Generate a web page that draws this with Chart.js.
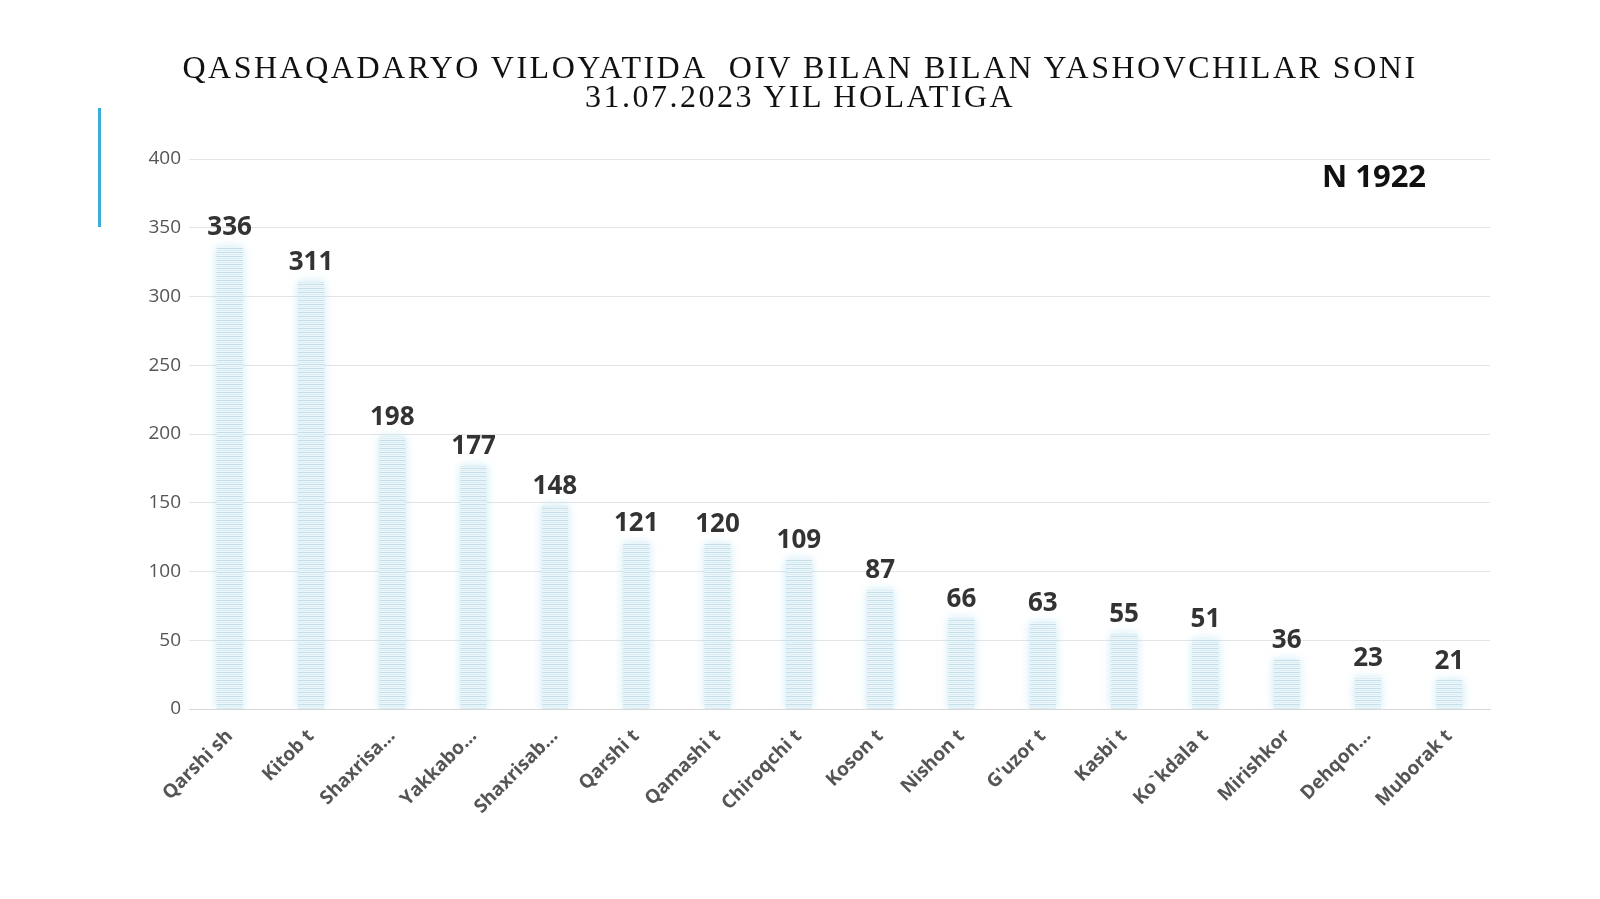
<!DOCTYPE html>
<html>
<head>
<meta charset="utf-8">
<script src="https://cdn.jsdelivr.net/npm/chart.js@4"></script>
<style>
  html, body { margin: 0; padding: 0; background: #fff; }
  #wrap { position: relative; width: 1600px; height: 899px; }
  #title {
    position: absolute; left: 0; top: 53px; width: 1600px;
    text-align: center; font-family: "Liberation Serif", serif;
    font-size: 32px; line-height: 29px; letter-spacing: 2.5px; color: #111;
  }
  #accent { position: absolute; left: 98px; top: 108px; width: 3px; height: 119px; background: #3aaed6; }
  canvas { position: absolute; left: 0; top: 0; }
</style>
</head>
<body>
<div id="wrap">
  <canvas id="chart" width="1600" height="899"></canvas>
  <div id="title">QASHAQADARYO VILOYATIDA&nbsp; OIV BILAN BILAN YASHOVCHILAR SONI<br>31.07.2023 YIL HOLATIGA</div>
  <div id="accent"></div>
</div>
<script>
const districts = ['Qarshi sh', 'Kitob t', 'Shaxrisa…', 'Yakkabo…', 'Shaxrisab…', 'Qarshi t', 'Qamashi t',
  'Chiroqchi t', 'Koson t', 'Nishon t', "G'uzor t", 'Kasbi t', 'Ko`kdala t', 'Mirishkor', 'Dehqon…', 'Muborak t'];
const counts = [336, 311, 198, 177, 148, 121, 120, 109, 87, 66, 63, 55, 51, 36, 23, 21];
const yTicks = [0, 50, 100, 150, 200, 250, 300, 350, 400];

const total = counts.reduce((a, b) => a + b, 0);

// striped fill for the bars
const pc = document.createElement('canvas');
pc.width = 4; pc.height = 4;
const pctx = pc.getContext('2d');
pctx.fillStyle = '#ecf7fb';
pctx.fillRect(0, 0, 4, 4);
pctx.fillStyle = '#c4dfea';
pctx.fillRect(0, 0, 4, 1);
pctx.fillStyle = '#dcedf4';
pctx.fillRect(0, 2, 4, 1);

const ctx = document.getElementById('chart').getContext('2d');
const stripes = ctx.createPattern(pc, 'repeat');

// soft glow behind bars
const glow = {
  id: 'glow',
  beforeDatasetsDraw(chart) {
    chart.ctx.save();
    chart.ctx.shadowColor = 'rgba(160, 215, 238, 0.55)';
    chart.ctx.shadowBlur = 10;
  },
  afterDatasetsDraw(chart) {
    chart.ctx.restore();
  }
};

// value labels above the bars + total in the corner
const labels = {
  id: 'labels',
  afterDraw(chart) {
    const c = chart.ctx;
    const meta = chart.getDatasetMeta(0);
    c.save();
    c.font = 'bold 26px "Open Sans"';
    c.fillStyle = '#333';
    c.textAlign = 'center';
    c.textBaseline = 'bottom';
    meta.data.forEach((bar, i) => {
      c.fillText(counts[i], bar.x, bar.y - 6);
    });
    c.font = 'bold 31px "Open Sans"';
    c.fillStyle = '#111';
    c.textBaseline = 'middle';
    c.fillText('N ' + total, 1374, 178);
    c.restore();
  }
};

new Chart(ctx, {
  type: 'bar',
  data: {
    labels: districts,
    datasets: [{
      data: counts,
      backgroundColor: stripes,
      borderWidth: 0,
      barPercentage: 0.32,
      categoryPercentage: 1
    }]
  },
  options: {
    responsive: false,
    animation: false,
    layout: { padding: { left: 0, right: 110, top: 159, bottom: 0 } },
    plugins: {
      legend: { display: false },
      tooltip: { enabled: false }
    },
    scales: {
      y: {
        min: 0,
        max: 400,
        afterBuildTicks: (s) => { s.ticks = yTicks.map(v => ({ value: v })); },
        afterFit: (s) => { s.width = 189; },
        border: { display: false },
        grid: { color: '#e4e4e4', drawTicks: false, lineWidth: 1 },
        ticks: { color: '#555', padding: 8, font: { family: 'Open Sans', size: 19 } }
      },
      x: {
        afterFit: (s) => { s.height = 899 - 709; },
        border: { color: '#d8d8d8' },
        grid: { display: false },
        ticks: {
          color: '#555',
          padding: 8,
          maxRotation: 45,
          minRotation: 45,
          autoSkip: false,
          font: { family: 'Open Sans', size: 19, weight: 'bold' }
        }
      }
    }
  },
  plugins: [glow, labels]
});
</script>
</body>
</html>
